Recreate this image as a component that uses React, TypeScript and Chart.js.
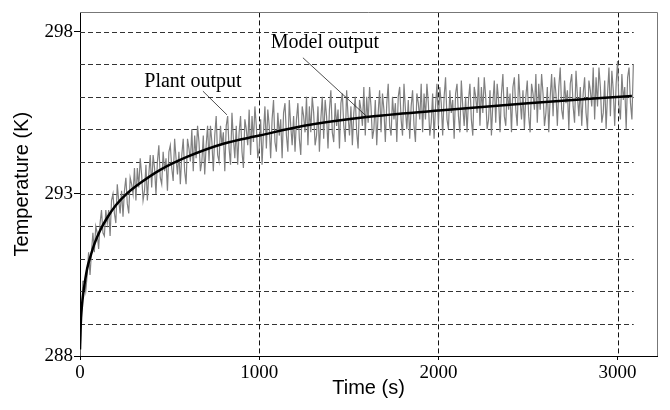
import React, { useEffect, useRef } from "react";
import { Chart, registerables } from "chart.js";

Chart.register(...registerables);

// Model output (smooth curve)
const modelTimes = [0, 3, 6, 10, 20, 40, 60, 80, 110, 150, 200, 260, 340, 450, 600, 800, 1000, 1250, 1600, 2000, 2500, 3080];
const modelTemps = [288.2, 288.8, 289.2, 289.5, 290.0, 290.7, 291.1, 291.45, 291.85, 292.25, 292.65, 293.0, 293.35, 293.75, 294.15, 294.55, 294.8, 295.1, 295.37, 295.57, 295.8, 296.02];

// Plant output (noisy measurement), one sample every plantStep seconds
const plantStep = 8;
const plantTemps = [
  288.0, 289.2, 290.3, 290.3, 290.0, 290.5, 291.2, 290.5, 291.2, 291.8,
  291.2, 292.0, 291.8, 291.3, 292.1, 292.5, 291.8, 291.7, 292.5, 292.1,
  292.5, 291.7, 292.8, 293.0, 292.4, 292.1, 293.3, 292.8, 292.4, 293.1,
  292.3, 293.1, 293.5, 292.7, 292.4, 293.5, 293.3, 293.0, 293.8, 292.8,
  293.8, 293.2, 294.1, 293.6, 292.8, 293.1, 293.9, 292.8, 293.6, 294.2,
  293.2, 294.2, 293.8, 293.0, 294.0, 294.5, 293.5, 293.3, 294.3, 293.7,
  294.1, 293.1, 294.3, 294.5, 293.8, 293.4, 294.7, 294.1, 293.6, 294.3,
  293.3, 294.2, 294.7, 293.7, 293.3, 294.7, 294.4, 294.0, 295.0, 293.7,
  294.8, 294.1, 295.1, 294.6, 293.7, 294.0, 294.8, 293.6, 294.5, 295.1,
  294.0, 295.1, 294.6, 293.7, 294.8, 295.4, 294.2, 294.0, 295.1, 294.5,
  294.9, 293.7, 295.1, 295.4, 294.4, 293.9, 295.5, 294.7, 294.1, 295.1,
  293.9, 294.9, 295.4, 294.3, 293.8, 295.3, 295.0, 294.5, 295.6, 294.2,
  295.4, 294.6, 295.7, 295.1, 294.1, 294.4, 295.3, 293.9, 294.9, 295.7,
  294.4, 295.6, 295.1, 294.1, 295.3, 295.9, 294.6, 294.3, 295.5, 294.8,
  295.3, 294.1, 295.5, 295.8, 294.8, 294.3, 295.9, 295.1, 294.5, 295.4,
  294.3, 295.3, 295.8, 294.7, 294.2, 295.7, 295.4, 294.9, 296.0, 294.5,
  295.7, 294.9, 296.0, 295.5, 294.5, 294.8, 295.7, 294.3, 295.3, 296.0,
  294.7, 295.9, 295.4, 294.4, 295.6, 296.2, 294.9, 294.6, 295.8, 295.1,
  295.6, 294.4, 295.8, 296.1, 295.1, 294.6, 296.2, 295.4, 294.8, 295.7,
  294.5, 295.5, 296.0, 294.9, 294.4, 295.9, 295.6, 295.1, 296.3, 294.8,
  296.0, 295.2, 296.3, 295.7, 294.7, 295.0, 295.9, 294.5, 295.5, 296.2,
  294.9, 296.1, 295.6, 294.6, 295.8, 296.4, 295.1, 294.8, 296.0, 295.3,
  295.8, 294.6, 296.0, 296.3, 295.3, 294.8, 296.4, 295.6, 295.0, 295.9,
  294.7, 295.7, 296.2, 295.1, 294.6, 296.1, 295.8, 295.3, 296.4, 294.9,
  296.1, 295.3, 296.4, 295.8, 294.8, 295.2, 296.1, 294.7, 295.7, 296.4,
  295.1, 296.3, 295.8, 294.8, 296.0, 296.6, 295.3, 295.0, 296.2, 295.5,
  295.9, 294.7, 296.1, 296.4, 295.4, 294.9, 296.5, 295.7, 295.1, 296.0,
  294.9, 295.9, 296.4, 295.3, 294.8, 296.3, 296.0, 295.5, 296.6, 295.1,
  296.3, 295.5, 296.6, 296.0, 295.0, 295.3, 296.2, 294.8, 295.8, 296.5,
  295.2, 296.4, 295.9, 294.9, 296.1, 296.7, 295.4, 295.1, 296.3, 295.6,
  296.1, 294.9, 296.3, 296.6, 295.6, 295.1, 296.7, 295.9, 295.3, 296.2,
  295.0, 296.0, 296.5, 295.4, 294.9, 296.4, 296.1, 295.6, 296.7, 295.2,
  296.4, 295.6, 296.7, 296.1, 295.1, 295.5, 296.3, 294.9, 296.0, 296.7,
  295.4, 296.6, 296.1, 295.1, 296.3, 296.9, 295.6, 295.3, 296.5, 295.8,
  296.2, 295.0, 296.4, 296.7, 295.7, 295.2, 296.8, 296.0, 295.4, 296.3,
  295.1, 296.1, 296.6, 295.5, 295.0, 296.5, 296.2, 295.7, 296.9, 295.3,
  296.6, 295.7, 296.9, 296.3, 295.2, 295.5, 296.5, 295.0, 296.1, 296.9,
  295.4, 296.8, 296.2, 295.1, 296.4, 297.1, 295.7, 295.3, 296.7, 295.9,
  296.3, 295.0, 296.6, 296.9, 295.8, 295.3, 297.0,
];

// Axes
const xTicks = [0, 1000, 2000, 3000];
const yTicks = [288, 293, 298];
const xMin = 0;
const xMax = 3220;
const yMin = 288;
const yMax = 298.6;
const xGridLines = [1000, 2000, 3000];
const yGridLines = [289, 290, 291, 292, 293, 294, 295, 296, 297, 298];
const gridEndTime = 3090;

const serif = "'Liberation Serif', 'Times New Roman', serif";
const sans = "'Liberation Sans', Arial, sans-serif";

export default function App() {
  const canvasRef = useRef<HTMLCanvasElement | null>(null);

  useEffect(() => {
    const canvas = canvasRef.current;
    if (!canvas) return;

    const plantData = plantTemps.map((v, i) => ({ x: i * plantStep, y: v }));
    const modelData = modelTimes.map((t, i) => ({ x: t, y: modelTemps[i] }));

    const gridPlugin = {
      id: "dashedGrid",
      beforeDatasetsDraw(chart: any) {
        const { ctx, chartArea, scales } = chart;
        const xs = scales.x;
        const ys = scales.y;
        ctx.save();
        ctx.lineWidth = 1;
        ctx.setLineDash([5, 3]);
        ctx.strokeStyle = "#333";
        const xEnd = xs.getPixelForValue(gridEndTime);
        for (const v of yGridLines) {
          const py = Math.round(ys.getPixelForValue(v)) + 0.5;
          ctx.beginPath();
          ctx.moveTo(chartArea.left, py);
          ctx.lineTo(xEnd, py);
          ctx.stroke();
        }
        ctx.strokeStyle = "#111";
        for (const v of xGridLines) {
          const px = Math.round(xs.getPixelForValue(v)) + 0.5;
          ctx.beginPath();
          ctx.moveTo(px, chartArea.top);
          ctx.lineTo(px, chartArea.bottom);
          ctx.stroke();
        }
        ctx.restore();
      },
      afterDatasetsDraw(chart: any) {
        const { ctx, chartArea } = chart;
        ctx.save();
        ctx.lineWidth = 1;
        ctx.strokeStyle = "#777";
        ctx.beginPath();
        ctx.moveTo(chartArea.left, Math.round(chartArea.top) + 0.5);
        ctx.lineTo(Math.round(chartArea.right) + 0.5, Math.round(chartArea.top) + 0.5);
        ctx.lineTo(Math.round(chartArea.right) + 0.5, chartArea.bottom);
        ctx.stroke();
        ctx.restore();
      },
    };

    const annotations = [
      { text: "Plant output", tx: 630, ty: 296.47, x1: 686, y1: 296.17, x2: 820, y2: 295.44 },
      { text: "Model output", tx: 1367, ty: 297.65, x1: 1244, y1: 297.2, x2: 1602, y2: 295.38 },
    ];

    const annotationPlugin = {
      id: "labels",
      afterDatasetsDraw(chart: any) {
        const { ctx, scales } = chart;
        const xs = scales.x;
        const ys = scales.y;
        ctx.save();
        for (const a of annotations) {
          ctx.strokeStyle = "#222";
          ctx.lineWidth = 0.8;
          ctx.beginPath();
          ctx.moveTo(xs.getPixelForValue(a.x1), ys.getPixelForValue(a.y1));
          ctx.lineTo(xs.getPixelForValue(a.x2), ys.getPixelForValue(a.y2));
          ctx.stroke();
          ctx.fillStyle = "#000";
          ctx.font = `20px ${serif}`;
          ctx.textAlign = "center";
          ctx.textBaseline = "middle";
          ctx.fillText(a.text, xs.getPixelForValue(a.tx), ys.getPixelForValue(a.ty));
        }
        ctx.restore();
      },
    };

    const chart = new Chart(canvas, {
      type: "line",
      data: {
        datasets: [
          {
            label: "Model output",
            data: modelData,
            borderColor: "#000",
            borderWidth: 2.5,
            pointRadius: 0,
            cubicInterpolationMode: "monotone",
            fill: false,
          },
          {
            label: "Plant output",
            data: plantData,
            borderColor: "#808080",
            borderWidth: 1.2,
            pointRadius: 0,
            tension: 0,
            fill: false,
          },
        ],
      },
      options: {
        responsive: false,
        animation: false,
        layout: { padding: { top: 7, right: 13, left: 0, bottom: 0 } },
        plugins: {
          legend: { display: false },
          tooltip: { enabled: false },
        },
        scales: {
          x: {
            type: "linear",
            min: xMin,
            max: xMax,
            afterBuildTicks: (scale: any) => {
              scale.ticks = xTicks.map((v) => ({ value: v }));
            },
            afterFit: (scale: any) => {
              scale.height = 54;
            },
            grid: { drawOnChartArea: false, drawTicks: true, tickLength: 4, color: "#000" },
            border: { display: true, color: "#000", width: 1 },
            ticks: {
              color: "#000",
              font: { family: serif, size: 19 },
              padding: 2,
              maxRotation: 0,
              autoSkip: false,
              callback: (v: any) => String(v),
            },
            title: {
              display: true,
              text: "Time (s)",
              color: "#000",
              font: { family: sans, size: 20 },
              padding: { top: 0, bottom: 10 },
            },
          },
          y: {
            type: "linear",
            min: yMin,
            max: yMax,
            afterBuildTicks: (scale: any) => {
              scale.ticks = yTicks.map((v) => ({ value: v }));
            },
            afterFit: (scale: any) => {
              scale.width = 80;
            },
            grid: { drawOnChartArea: false, drawTicks: true, tickLength: 6, color: "#000" },
            border: { display: true, color: "#000", width: 1 },
            ticks: {
              color: "#000",
              font: { family: serif, size: 19 },
              padding: 1,
              autoSkip: false,
              callback: (v: any) => String(v),
            },
            title: {
              display: true,
              text: "Temperature (K)",
              color: "#000",
              font: { family: sans, size: 20 },
              padding: { top: 10, bottom: 0 },
            },
          },
        },
      },
      plugins: [gridPlugin, annotationPlugin],
    });

    return () => chart.destroy();
  }, []);

  return (
    <div style={{ position: "absolute", left: 0, top: 0, width: 670, height: 410 }}>
      <canvas ref={canvasRef} width={670} height={410} />
    </div>
  );
}
